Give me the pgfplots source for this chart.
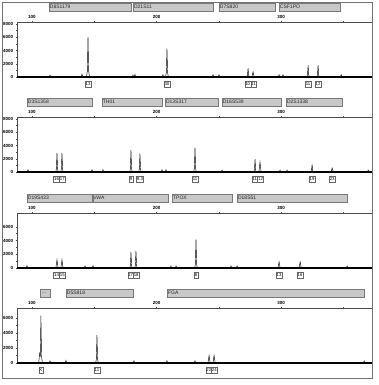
\documentclass[border=0pt]{standalone}
\usepackage{fontspec}
\setmainfont{Liberation Sans}
\usepackage{pgfplots}
\pgfplotsset{compat=1.18}
\definecolor{barfill}{RGB}{200,200,200}
\definecolor{barline}{RGB}{120,120,120}
\pgfplotsset{
  egram/.style={
    scale only axis, width=355pt, height=55pt,
    xmin=88, xmax=373, ymin=0,
    axis x line*=top, axis y line*=left,
    xtick={100,200,300}, minor xtick={150,250,350},
    xticklabel style={font=\fontsize{4.5}{5}\selectfont\bfseries, yshift=-1pt},
    yticklabel style={font=\fontsize{4.5}{5}\selectfont\bfseries, xshift=1pt},
    /pgf/number format/assume math mode=true,
    /pgf/number format/1000 sep={},
    scaled y ticks=false,
    minor y tick num=1,
    tick align=center,
    major tick length=2.5pt, minor tick length=1.5pt,
    tick style={black!70, line width=0.4pt},
    axis line style={black!70, line width=0.5pt},
    clip=false,
  },
  peaks/.style={black, line width=0.45pt, mark=none},
  base/.style={black, line width=1.1pt, mark=none},
}
\tikzset{
  genebar/.style={draw=barline, fill=barfill, line width=0.4pt},
  mlabel/.style={font=\fontsize{5}{6}\selectfont, anchor=west, inner sep=0.8pt, text=black!85},
  allele/.style={draw=black!60, fill=white, inner sep=0.6pt, line width=0.35pt,
    font=\fontsize{4.3}{5}\selectfont, minimum height=6pt, minimum width=4pt},
}
\newcommand{\mk}[3]{%
  \draw[genebar] (rel axis cs:#1,1.2) rectangle (rel axis cs:#2,1.34);
  \node[mlabel] at (rel axis cs:#1,1.27) {#3};}
\begin{document}
\begin{tikzpicture}
\path[use as bounding box] (0pt,0pt) rectangle (379pt,-385pt);
\draw[black!55, line width=0.5pt] (2pt,-2pt) rectangle (372pt,-378pt);

% ---------------- Panel 1 ----------------
\begin{axis}[egram, at={(17pt,-22pt)}, anchor=north west, ymax=8300, ytick={0,2000,4000,6000,8000}]
\addplot[base] coordinates {(88,0) (373,0)};
\addplot[peaks] coordinates {
 (113.9,0) (114.5,300) (115.1,0)
 (139.6,0) (140.2,450) (140.8,0)
 (143.8,0) (144.5,900) (145.0,6100) (145.5,900) (146.2,0)
 (180.5,0) (181.1,300) (181.7,0)
 (182.1,0) (182.7,400) (183.3,0)
 (204.6,0) (205.2,350) (205.8,0)
 (207.2,0) (207.9,650) (208.4,4300) (208.9,650) (209.6,0)
 (244.8,0) (245.4,350) (246.0,0)
 (249.6,0) (250.2,350) (250.8,0)
 (272.5,0) (273.0,250) (273.5,1350) (274.0,250) (274.5,0)
 (276.6,0) (277.5,800) (278.4,0)
 (297.8,0) (298.4,350) (299.0,0)
 (301.0,0) (301.6,350) (302.2,0)
 (320.7,0) (321.2,300) (321.7,1800) (322.2,300) (322.7,0)
 (328.7,0) (329.2,300) (329.7,1800) (330.2,300) (330.7,0)
 (347.6,0) (348.2,350) (348.8,0)
};
\mk{0.090}{0.321}{D8S1179}
\mk{0.327}{0.552}{D21S11}
\mk{0.569}{0.727}{D7S820}
\mk{0.738}{0.910}{CSF1PO}
\node[allele] at (axis cs:145.0,-1060) {13};
\node[allele] at (axis cs:208.4,-1060) {30};
\node[allele] at (axis cs:273.2,-1060) {10};
\node[allele] at (axis cs:277.9,-1060) {11};
\node[allele] at (axis cs:321.7,-1060) {11};
\node[allele] at (axis cs:329.7,-1060) {12};
\end{axis}

% ---------------- Panel 2 ----------------
\begin{axis}[egram, at={(17pt,-117pt)}, anchor=north west, ymax=8300, ytick={0,2000,4000,6000,8000}]
\addplot[base] coordinates {(88,0) (373,0)};
\addplot[peaks] coordinates {
 (96.2,0) (96.8,350) (97.4,0)
 (119.1,0) (119.6,450) (120.1,2900) (120.6,450) (121.1,0)
 (123.1,0) (123.6,450) (124.1,2900) (124.6,450) (125.1,0)
 (147.6,0) (148.2,350) (148.8,0)
 (156.4,0) (157.0,350) (157.6,0)
 (178.5,0) (179.0,500) (179.5,3300) (180.0,500) (180.5,0)
 (185.7,0) (186.2,450) (186.7,2800) (187.2,450) (187.7,0)
 (203.8,0) (204.4,350) (205.0,0)
 (207.0,0) (207.6,350) (208.2,0)
 (229.9,0) (230.4,550) (230.9,3700) (231.4,550) (231.9,0)
 (252.0,0) (252.6,300) (253.2,0)
 (278.1,0) (278.6,300) (279.1,1950) (279.6,300) (280.1,0)
 (282.2,0) (283.1,1500) (284.0,0)
 (298.6,0) (299.2,300) (299.8,0)
 (304.2,0) (304.8,300) (305.4,0)
 (323.9,0) (324.4,200) (324.9,1150) (325.4,200) (325.9,0)
 (340.1,0) (341.0,600) (341.9,0)
 (369.3,0) (369.9,300) (370.5,0)
};
\mk{0.028}{0.211}{D3S1358}
\mk{0.239}{0.408}{TH01}
\mk{0.417}{0.566}{D13S317}
\mk{0.577}{0.744}{D16S539}
\mk{0.758}{0.915}{D2S1338}
\node[allele] at (axis cs:119.8,-1060) {16};
\node[allele] at (axis cs:124.4,-1060) {17};
\node[allele] at (axis cs:179.5,-1060) {9};
\node[allele] at (axis cs:186.7,-1060) {9.3};
\node[allele] at (axis cs:230.9,-1060) {11};
\node[allele] at (axis cs:278.9,-1060) {11};
\node[allele] at (axis cs:283.5,-1060) {12};
\node[allele] at (axis cs:324.9,-1060) {19};
\node[allele] at (axis cs:341.0,-1060) {23};
\end{axis}

% ---------------- Panel 3 ----------------
\begin{axis}[egram, at={(17pt,-213pt)}, anchor=north west, ymax=8000, ytick={0,2000,4000,6000}]
\addplot[base] coordinates {(88,0) (373,0)};
\addplot[peaks] coordinates {
 (95.4,0) (96.0,350) (96.6,0)
 (119.2,0) (120.1,1200) (121.0,0)
 (123.2,0) (124.1,1200) (125.0,0)
 (142.0,0) (142.6,300) (143.2,0)
 (148.4,0) (149.0,350) (149.6,0)
 (178.5,0) (179.0,350) (179.5,2300) (180.0,350) (180.5,0)
 (182.5,0) (183.0,380) (183.5,2500) (184.0,380) (184.5,0)
 (211.0,0) (211.6,300) (212.2,0)
 (215.1,0) (215.7,300) (216.3,0)
 (230.7,0) (231.2,600) (231.7,4200) (232.2,600) (232.7,0)
 (259.2,0) (259.8,300) (260.4,0)
 (264.1,0) (264.7,300) (265.3,0)
 (297.5,0) (298.4,900) (299.3,0)
 (314.4,0) (315.3,900) (316.2,0)
 (352.4,0) (353.0,300) (353.6,0)
};
\mk{0.028}{0.211}{D19S433}
\mk{0.214}{0.425}{vWA}
\mk{0.437}{0.606}{TPOX}
\mk{0.620}{0.930}{D18S51}
\node[allele] at (axis cs:119.8,-1020) {14};
\node[allele] at (axis cs:124.4,-1020) {15};
\node[allele] at (axis cs:179.3,-1020) {17};
\node[allele] at (axis cs:183.7,-1020) {18};
\node[allele] at (axis cs:231.7,-1020) {8};
\node[allele] at (axis cs:298.4,-1020) {13};
\node[allele] at (axis cs:315.3,-1020) {16};
\end{axis}

% ---------------- Panel 4 ----------------
\begin{axis}[egram, at={(17pt,-308pt)}, anchor=north west, ymax=7300, ytick={0,2000,4000,6000}]
\addplot[base] coordinates {(88,0) (373,0)};
\addplot[peaks] coordinates {
 (105.4,0) (106.2,1300) (106.7,1000) (107.2,6300) (107.7,900) (108.4,0)
 (113.9,0) (114.5,300) (115.1,0)
 (126.7,0) (127.3,350) (127.9,0)
 (151.2,0) (151.7,550) (152.2,3700) (152.7,550) (153.2,0)
 (181.3,0) (181.9,300) (182.5,0)
 (207.8,0) (208.4,300) (209.0,0)
 (230.3,0) (230.9,300) (231.5,0)
 (241.3,0) (242.2,1000) (243.1,0)
 (245.3,0) (246.2,1000) (247.1,0)
 (366.1,0) (366.7,300) (367.3,0)
};
\mk{0.065}{0.093}{\,...}
\mk{0.138}{0.327}{D5S818}
\mk{0.423}{0.977}{FGA}
\node[allele] at (axis cs:107.2,-930) {X};
\node[allele] at (axis cs:152.2,-930) {11};
\node[allele] at (axis cs:242.0,-930) {22};
\node[allele] at (axis cs:246.4,-930) {24};
\end{axis}
\end{tikzpicture}
\end{document}
